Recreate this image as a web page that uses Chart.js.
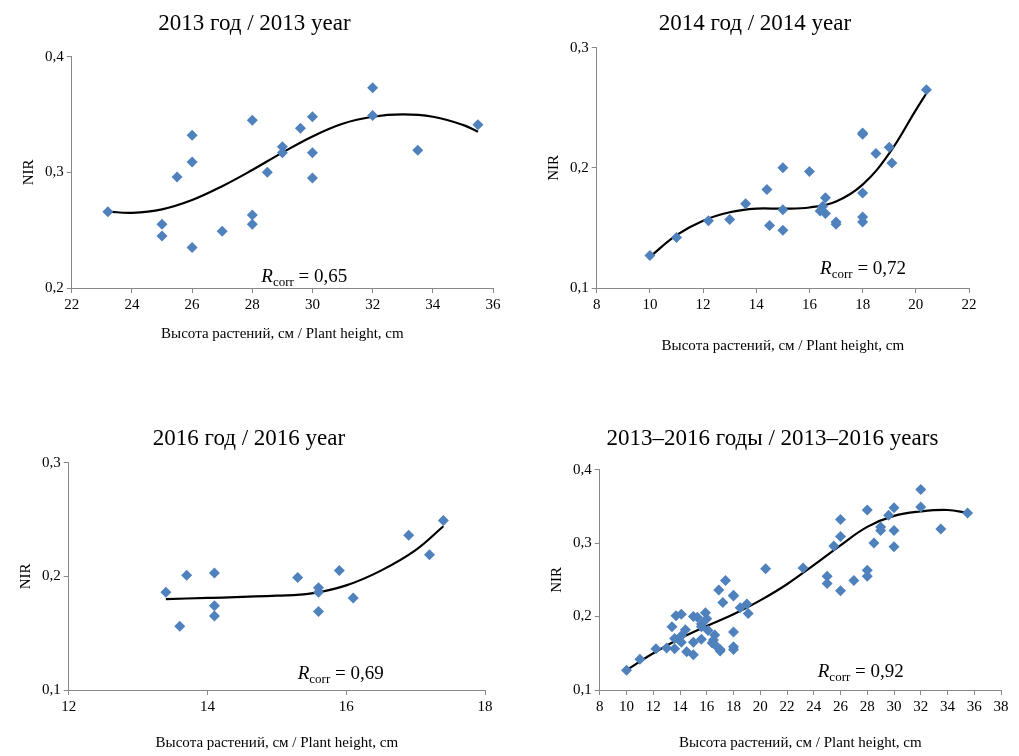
<!DOCTYPE html>
<html>
<head>
<meta charset="utf-8">
<script src="https://cdn.jsdelivr.net/npm/chart.js@4"></script>
<style>
  body { margin: 0; background: #fff; }
  .box { position: absolute; }
</style>
</head>
<body>
<div class="box" style="left:0;top:0;width:505px;height:347px"><canvas id="c1"></canvas></div>
<div class="box" style="left:510px;top:0;width:505px;height:359px"><canvas id="c2"></canvas></div>
<div class="box" style="left:0;top:415px;width:505px;height:341px"><canvas id="c3"></canvas></div>
<div class="box" style="left:510px;top:415px;width:509px;height:341px"><canvas id="c4"></canvas></div>
<script>
// 2013
const x2013 = [23.2, 25, 25, 25.5, 26, 26, 26, 27, 28, 28, 28, 28.5, 29, 29, 29.6, 30, 30, 30, 32, 32, 33.5, 35.5];
const y2013 = [0.266, 0.255, 0.245, 0.296, 0.332, 0.309, 0.235, 0.249, 0.345, 0.263, 0.255, 0.300, 0.322, 0.317, 0.338, 0.348, 0.317, 0.295, 0.373, 0.349, 0.319, 0.341];
const trendX2013 = [23.2, 24, 25, 26, 27, 28, 29, 30, 31, 32, 33, 34, 35, 35.5];
const trendY2013 = [0.266, 0.265, 0.268, 0.276, 0.288, 0.302, 0.317, 0.331, 0.342, 0.348, 0.350, 0.348, 0.341, 0.335];
// 2014
const x2014 = [10, 11, 12.2, 13, 13.6, 14.4, 14.5, 15, 15, 15, 16, 16.4, 16.5, 16.6, 16.6, 17, 17, 18, 18, 18, 18, 18, 18.5, 19, 19.1, 20.4];
const y2014 = [0.127, 0.142, 0.156, 0.157, 0.170, 0.182, 0.152, 0.200, 0.165, 0.148, 0.197, 0.164, 0.168, 0.175, 0.162, 0.155, 0.153, 0.229, 0.228, 0.179, 0.159, 0.155, 0.212, 0.217, 0.204, 0.265];
const trendX2014 = [10, 11, 12, 13, 14, 15, 16, 17, 18, 19, 20, 20.4];
const trendY2014 = [0.126, 0.144, 0.156, 0.163, 0.166, 0.166, 0.167, 0.172, 0.186, 0.212, 0.248, 0.262];
// 2016
const x2016 = [13.4, 13.6, 13.7, 14.1, 14.1, 14.1, 15.3, 15.6, 15.6, 15.6, 15.9, 16.1, 16.9, 17.2, 17.4];
const y2016 = [0.186, 0.156, 0.201, 0.203, 0.174, 0.165, 0.199, 0.190, 0.186, 0.169, 0.205, 0.181, 0.236, 0.219, 0.249];
const trendX2016 = [13.4, 14, 15, 15.5, 16, 16.5, 17, 17.4];
const trendY2016 = [0.180, 0.181, 0.183, 0.185, 0.192, 0.205, 0.223, 0.244];
// 2013–2016 trend
const trendXAll = [10, 12, 14, 16, 18, 20, 22, 24, 26, 28, 30, 32, 34, 35.5];
const trendYAll = [0.127, 0.150, 0.170, 0.187, 0.203, 0.222, 0.244, 0.270, 0.297, 0.322, 0.337, 0.343, 0.345, 0.341];

const serif = '"Liberation Serif", "Times New Roman", serif';
const pts = (xs, ys) => xs.map((x, i) => ({ x: x, y: ys[i] }));
const comma = v => v.toFixed(1).replace('.', ',');

const rcorr = {
  id: 'rcorr',
  afterDraw(chart, args, opts) {
    const c = chart.ctx;
    const px = chart.scales.x.getPixelForValue(opts.x);
    const py = chart.scales.y.getPixelForValue(opts.y);
    c.save();
    c.fillStyle = '#000';
    c.textBaseline = 'alphabetic';
    c.font = 'italic 19px ' + serif;
    c.fillText('R', px, py);
    let w = c.measureText('R').width;
    c.font = '13px ' + serif;
    c.fillText('corr', px + w, py + 4);
    w += c.measureText('corr').width;
    c.font = '19px ' + serif;
    c.fillText(' = ' + opts.text, px + w, py);
    c.restore();
  }
};

function make(id, cfg) {
  const axisGrid = { drawOnChartArea: false, drawTicks: true, tickLength: 5, color: '#888' };
  new Chart(document.getElementById(id), {
    type: 'scatter',
    data: {
      datasets: [
        { data: pts(cfg.xs, cfg.ys), pointStyle: 'rectRot', pointRadius: 5.5, pointHoverRadius: 5.5,
          backgroundColor: '#4F81BD', borderColor: '#4F81BD', borderWidth: 0 },
        { data: pts(cfg.tx, cfg.ty), showLine: true, tension: 0.4, pointRadius: 0,
          borderColor: '#000', borderWidth: 2.2, fill: false }
      ]
    },
    options: {
      responsive: true, maintainAspectRatio: false, animation: false,
      layout: { padding: cfg.pad },
      plugins: {
        legend: { display: false }, tooltip: { enabled: false },
        title: { display: true, text: cfg.title, color: '#000', font: { family: serif, size: 23, weight: 'normal' }, padding: { top: 0, bottom: cfg.tpad } },
        rcorr: { x: cfg.rx, y: cfg.ry, text: cfg.r }
      },
      scales: {
        x: { type: 'linear', min: cfg.xmin, max: cfg.xmax,
          ticks: { stepSize: cfg.xstep, color: '#000', font: { family: serif, size: 15 } },
          grid: axisGrid, border: { color: '#888' },
          title: { display: true, text: 'Высота растений, см / Plant height, cm', color: '#000', font: { family: serif, size: 15 }, padding: { top: cfg.xpad } } },
        y: { min: cfg.ymin, max: cfg.ymax,
          ticks: { stepSize: 0.1, color: '#000', font: { family: serif, size: 15 }, callback: comma },
          grid: axisGrid, border: { color: '#888' },
          title: { display: true, text: 'NIR', color: '#000', font: { family: serif, size: 15 }, padding: { bottom: 4 } } }
      }
    },
    plugins: [rcorr]
  });
}

make('c1', { xs: x2013, ys: y2013, tx: trendX2013, ty: trendY2013, title: '2013 год / 2013 year',
  xmin: 22, xmax: 36, xstep: 2, ymin: 0.2, ymax: 0.4, rx: 28.3, ry: 0.205, r: '0,65',
  pad: { top: 10, right: 12, left: 16 }, tpad: 19, xpad: 8 });
make('c2', { xs: x2014, ys: y2014, tx: trendX2014, ty: trendY2014, title: '2014 год / 2014 year',
  xmin: 8, xmax: 22, xstep: 2, ymin: 0.1, ymax: 0.3, rx: 16.4, ry: 0.112, r: '0,72',
  pad: { top: 10, right: 46, left: 31 }, tpad: 10, xpad: 20 });
make('c3', { xs: x2016, ys: y2016, tx: trendX2016, ty: trendY2016, title: '2016 год / 2016 year',
  xmin: 12, xmax: 18, xstep: 2, ymin: 0.1, ymax: 0.3, rx: 15.3, ry: 0.11, r: '0,69',
  pad: { top: 10, right: 20, left: 13 }, tpad: 10, xpad: 15 });
make('c4', { xs: x2013.concat(x2014, x2016), ys: y2013.concat(y2014, y2016), tx: trendXAll, ty: trendYAll,
  title: '2013–2016 годы / 2013–2016 years', xmin: 8, xmax: 38, xstep: 2, ymin: 0.1, ymax: 0.4,
  rx: 24.3, ry: 0.118, r: '0,92', pad: { top: 10, right: 18, left: 34 }, tpad: 17, xpad: 15 });
</script>
</body>
</html>
